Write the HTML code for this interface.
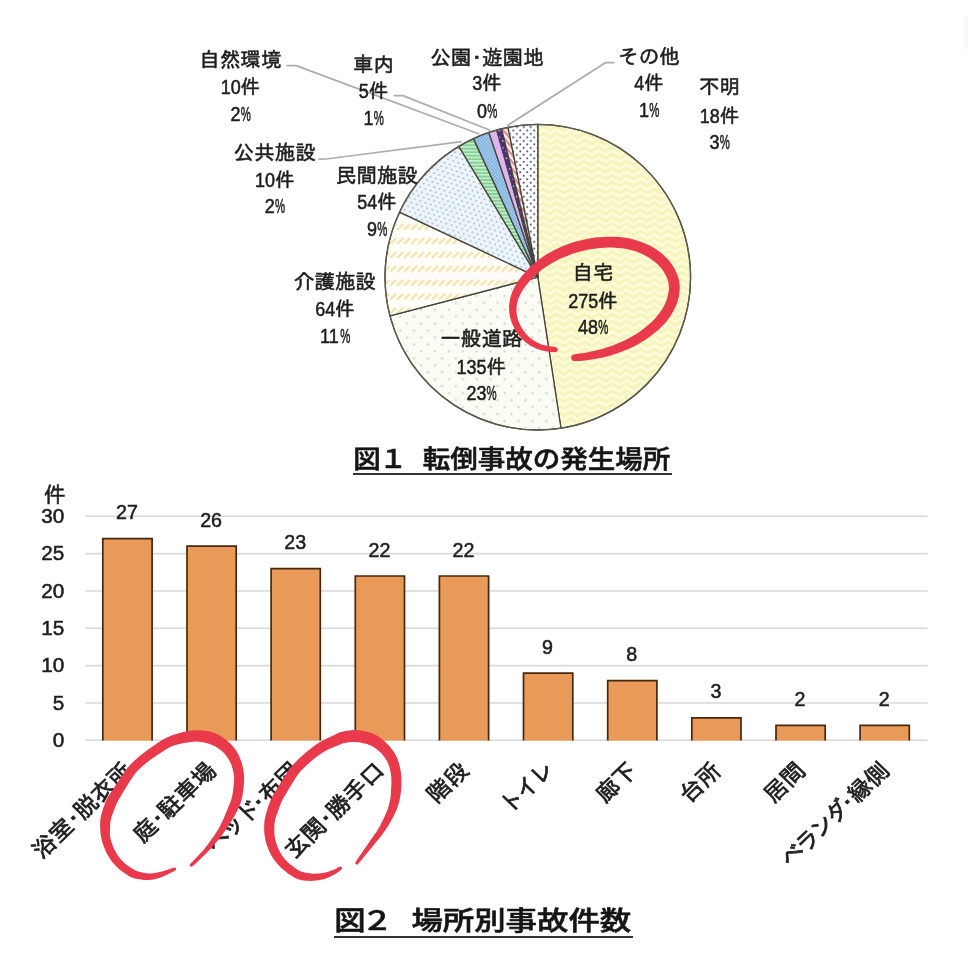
<!DOCTYPE html>
<html lang="ja">
<head>
<meta charset="utf-8">
<title>転倒事故の発生場所</title>
<style>
html,body{margin:0;padding:0;background:#fff;}
body{width:968px;height:964px;overflow:hidden;position:relative;}
svg{position:absolute;left:0;top:0;display:block;}
text{font-family:"Liberation Sans","IPAGothic","Noto Sans CJK JP",sans-serif;fill:#1e1e1e;stroke:#1e1e1e;stroke-width:0.55px;}
.lb{font-size:20.6px;text-anchor:middle;}
.k{font-size:19.7px;}
.n{font-size:20.3px;}
.ttl{font-family:"Liberation Sans","Noto Sans CJK JP",sans-serif;font-weight:500;fill:#151515;stroke:#151515;stroke-width:0.6px;}
.ax{font-size:20.3px;text-anchor:end;}
.dv{font-size:20.3px;text-anchor:middle;}
.cat{font-size:22.7px;text-anchor:end;stroke-width:0.7px;}
</style>
</head>
<body>
<svg width="968" height="964" viewBox="0 0 968 964">
<defs>
<pattern id="pZig" width="13.92" height="6.96" patternUnits="userSpaceOnUse"><rect width="13.92" height="6.96" fill="#fdfcda"/>
<polyline points="-6.96,-8.70 0,-12.88 6.96,-8.70 13.92,-12.88 20.88,-8.70" fill="none" stroke="#f6f4ba" stroke-width="3.04"/>
<polyline points="-6.96,-1.74 0,-5.92 6.96,-1.74 13.92,-5.92 20.88,-1.74" fill="none" stroke="#f6f4ba" stroke-width="3.04"/>
<polyline points="-6.96,5.22 0,1.04 6.96,5.22 13.92,1.04 20.88,5.22" fill="none" stroke="#f6f4ba" stroke-width="3.04"/>
<polyline points="-6.96,12.18 0,8.00 6.96,12.18 13.92,8.00 20.88,12.18" fill="none" stroke="#f6f4ba" stroke-width="3.04"/>
<polyline points="-6.96,19.14 0,14.96 6.96,19.14 13.92,14.96 20.88,19.14" fill="none" stroke="#f6f4ba" stroke-width="3.04"/>
</pattern>
<pattern id="pRoad" width="13.92" height="13.92" patternUnits="userSpaceOnUse"><rect width="13.92" height="13.92" fill="#fbfcf4"/><circle cx="3.48" cy="3.48" r="1.15" fill="#d0d3c7"/><circle cx="10.44" cy="10.44" r="1.15" fill="#d0d3c7"/></pattern>
<pattern id="pCare" width="6.96" height="13.92" patternUnits="userSpaceOnUse"><rect width="6.96" height="13.92" fill="#fffefa"/>
<line x1="-6.44" y1="7.31" x2="-0.52" y2="1.39" stroke="#f2e2a4" stroke-width="2.17"/>
<line x1="0.52" y1="7.31" x2="6.44" y2="1.39" stroke="#f2e2a4" stroke-width="2.17"/>
<line x1="7.48" y1="7.31" x2="13.40" y2="1.39" stroke="#f2e2a4" stroke-width="2.17"/>
</pattern>
<pattern id="pPriv" width="13.92" height="13.92" patternUnits="userSpaceOnUse"><rect width="13.92" height="13.92" fill="#ebf5fb"/>
<circle cx="0.87" cy="0.87" r="0.9" fill="#9eafbd"/>
<circle cx="6.09" cy="2.61" r="0.9" fill="#9eafbd"/>
<circle cx="11.31" cy="4.35" r="0.9" fill="#9eafbd"/>
<circle cx="2.61" cy="6.09" r="0.9" fill="#9eafbd"/>
<circle cx="7.83" cy="7.83" r="0.9" fill="#9eafbd"/>
<circle cx="13.05" cy="9.57" r="0.9" fill="#9eafbd"/>
<circle cx="4.35" cy="11.31" r="0.9" fill="#9eafbd"/>
<circle cx="9.57" cy="13.05" r="0.9" fill="#9eafbd"/>
</pattern>
<pattern id="pGreen" width="3.48" height="3.48" patternUnits="userSpaceOnUse"><rect width="3.48" height="3.48" fill="#84cf94"/><rect width="3.48" height="1.57" fill="#c9efd0"/></pattern>
<pattern id="pBlue" width="3.48" height="3.48" patternUnits="userSpaceOnUse"><rect width="3.48" height="3.48" fill="#7eaedb"/><rect width="1.74" height="1.74" fill="#a9cdeb"/><rect x="1.74" y="1.74" width="1.74" height="1.74" fill="#a9cdeb"/></pattern>
<pattern id="pPurple" width="6.96" height="6.96" patternUnits="userSpaceOnUse"><rect width="6.96" height="6.96" fill="#4d2b7c"/><circle cx="1.74" cy="1.74" r="0.95" fill="#d3b4ee"/><circle cx="5.22" cy="5.22" r="0.95" fill="#d3b4ee"/></pattern>
<pattern id="pOther" width="4.52" height="4.52" patternUnits="userSpaceOnUse" patternTransform="rotate(50)"><rect width="4.52" height="4.52" fill="#fdeeea"/><rect width="4.52" height="2.09" fill="#d88c8a"/></pattern>
<pattern id="pUnk" width="6.96" height="6.96" patternUnits="userSpaceOnUse"><rect width="6.96" height="6.96" fill="#fdfdff"/><circle cx="1.74" cy="1.74" r="1.05" fill="#54546a"/><circle cx="5.22" cy="5.22" r="1.05" fill="#54546a"/></pattern>
</defs>
<rect width="968" height="964" fill="#ffffff"/>
<rect x="964" y="17" width="4" height="32" fill="#f8f8f8"/>
<g fill="none" stroke="#adadad" stroke-width="1.7" stroke-linejoin="round">
<polyline points="286.3,65.6 296.2,65.6 479.3,134"/>
<polyline points="393.6,95.6 403,95.6 490.6,130.5"/>
<polyline points="318.6,159.2 326,159 461.7,141.7"/>
<polyline points="614.6,62.7 605.3,62.7 507.1,125.7"/>
</g>
<g stroke="#45453c" stroke-width="1.3" stroke-linejoin="round">
<path d="M537.80 277.20 L537.80 124.40 A152.8 152.8 0 0 1 560.96 428.23 Z" fill="url(#pZig)"/>
<path d="M537.80 277.20 L560.96 428.23 A152.8 152.8 0 0 1 389.96 315.81 Z" fill="url(#pRoad)"/>
<path d="M537.80 277.20 L389.96 315.81 A152.8 152.8 0 0 1 399.57 212.08 Z" fill="url(#pCare)"/>
<path d="M537.80 277.20 L399.57 212.08 A152.8 152.8 0 0 1 458.78 146.42 Z" fill="url(#pPriv)"/>
<path d="M537.80 277.20 L458.78 146.42 A152.8 152.8 0 0 1 473.43 138.62 Z" fill="url(#pGreen)"/>
<path d="M537.80 277.20 L473.43 138.62 A152.8 152.8 0 0 1 488.85 132.45 Z" fill="url(#pBlue)"/>
<path d="M537.80 277.20 L488.85 132.45 A152.8 152.8 0 0 1 496.78 130.01 Z" fill="#ddb4f1"/>
<path d="M537.80 277.20 L496.78 130.01 A152.8 152.8 0 0 1 501.60 128.75 Z" fill="url(#pPurple)"/>
<path d="M537.80 277.20 L501.60 128.75 A152.8 152.8 0 0 1 508.09 127.32 Z" fill="url(#pOther)"/>
<path d="M537.80 277.20 L508.09 127.32 A152.8 152.8 0 0 1 537.80 124.40 Z" fill="url(#pUnk)"/>
</g>
<circle cx="537.8" cy="277.2" r="152.8" fill="none" stroke="#5a5a4e" stroke-width="1.3"/>
<text class="lb" x="240.5" y="66.6">自然環境</text>
<text class="n" transform="translate(220.7,93.6) scale(0.885,1)">10</text>
<text class="k" x="240.6" y="93.6">件</text>
<text class="n" transform="translate(230.4,120.6) scale(0.885,1)">2</text>
<text class="n" transform="translate(240.7,120.6) scale(0.56,1)">%</text>
<text class="lb" x="373.6" y="71.5">車内</text>
<text class="n" transform="translate(358.8,98.3) scale(0.885,1)">5</text>
<text class="k" x="368.7" y="98.3">件</text>
<text class="n" transform="translate(363.5,124.8) scale(0.885,1)">1</text>
<text class="n" transform="translate(373.8,124.8) scale(0.56,1)">%</text>
<text class="lb" x="487" y="64.8">公園<tspan dx="-5">・</tspan><tspan dx="-5">遊園地</tspan></text>
<text class="n" transform="translate(472.2,90.0) scale(0.885,1)">3</text>
<text class="k" x="482.1" y="90.0">件</text>
<text class="n" transform="translate(476.9,118.1) scale(0.885,1)">0</text>
<text class="n" transform="translate(487.2,118.1) scale(0.56,1)">%</text>
<text class="lb" x="649" y="64.1">その他</text>
<text class="n" transform="translate(634.2,89.9) scale(0.885,1)">4</text>
<text class="k" x="644.1" y="89.9">件</text>
<text class="n" transform="translate(638.9,117.4) scale(0.885,1)">1</text>
<text class="n" transform="translate(649.2,117.4) scale(0.56,1)">%</text>
<text class="lb" x="719.6" y="94.2">不明</text>
<text class="n" transform="translate(699.8,122.5) scale(0.885,1)">18</text>
<text class="k" x="719.7" y="122.5">件</text>
<text class="n" transform="translate(709.5,148.9) scale(0.885,1)">3</text>
<text class="n" transform="translate(719.8,148.9) scale(0.56,1)">%</text>
<text class="lb" x="274.8" y="159.6">公共施設</text>
<text class="n" transform="translate(255.0,186.6) scale(0.885,1)">10</text>
<text class="k" x="274.9" y="186.6">件</text>
<text class="n" transform="translate(264.7,213.4) scale(0.885,1)">2</text>
<text class="n" transform="translate(275.0,213.4) scale(0.56,1)">%</text>
<text class="lb" x="377" y="183.1">民間施設</text>
<text class="n" transform="translate(357.2,208.9) scale(0.885,1)">54</text>
<text class="k" x="377.1" y="208.9">件</text>
<text class="n" transform="translate(366.9,236.4) scale(0.885,1)">9</text>
<text class="n" transform="translate(377.2,236.4) scale(0.56,1)">%</text>
<text class="lb" x="335" y="289.4">介護施設</text>
<text class="n" transform="translate(315.2,316.1) scale(0.885,1)">64</text>
<text class="k" x="335.1" y="316.1">件</text>
<text class="n" transform="translate(320.0,342.7) scale(0.885,1)">11</text>
<text class="n" transform="translate(340.2,342.7) scale(0.56,1)">%</text>
<text class="lb" x="481.4" y="346">一般道路</text>
<text class="n" transform="translate(456.6,373.6) scale(0.885,1)">135</text>
<text class="k" x="486.5" y="373.6">件</text>
<text class="n" transform="translate(466.4,400.3) scale(0.885,1)">23</text>
<text class="n" transform="translate(486.6,400.3) scale(0.56,1)">%</text>
<text class="lb" x="593" y="280.3">自宅</text>
<text class="n" transform="translate(568.2,307.5) scale(0.885,1)">275</text>
<text class="k" x="598.1" y="307.5">件</text>
<text class="n" transform="translate(578.0,334.3) scale(0.885,1)">48</text>
<text class="n" transform="translate(598.2,334.3) scale(0.56,1)">%</text>
<path d="M555.4 347.1 L553.8 346.8 L551.4 346.5 L548.8 346.1 L546.0 345.6 L543.3 345.0 L540.9 344.2 L538.7 343.2 L536.3 342.0 L534.1 340.7 L531.9 339.2 L529.8 337.6 L528.0 335.9 L526.2 334.1 L524.5 332.0 L522.9 329.7 L521.5 327.4 L520.2 325.1 L519.1 322.8 L518.2 320.5 L517.6 318.2 L517.0 315.9 L516.7 313.5 L516.5 311.2 L516.5 308.9 L516.6 306.7 L516.9 304.4 L517.4 302.2 L518.0 299.9 L518.8 297.6 L519.8 295.4 L521.0 293.1 L522.3 290.8 L523.7 288.5 L525.4 286.2 L527.2 283.9 L529.3 281.5 L531.5 279.1 L533.9 276.7 L536.5 274.2 L539.2 271.9 L542.0 269.6 L545.0 267.4 L548.1 265.4 L551.4 263.4 L554.9 261.4 L558.5 259.6 L562.2 257.9 L565.8 256.4 L569.5 254.9 L573.2 253.6 L577.1 252.4 L580.9 251.3 L584.8 250.4 L588.6 249.6 L592.5 248.9 L596.3 248.4 L600.2 248.0 L604.0 247.7 L607.7 247.6 L611.4 247.5 L615.0 247.7 L618.5 247.9 L621.9 248.2 L625.3 248.7 L628.5 249.4 L631.7 250.2 L634.9 251.1 L638.1 252.3 L641.2 253.6 L644.2 255.0 L647.1 256.6 L649.8 258.2 L652.2 259.9 L654.6 261.7 L656.8 263.6 L658.9 265.7 L660.8 267.7 L662.4 269.8 L663.9 272.0 L665.2 274.3 L666.4 276.7 L667.4 279.1 L668.1 281.5 L668.6 283.8 L668.8 286.1 L668.9 288.5 L668.7 291.0 L668.3 293.5 L667.7 296.1 L667.0 298.6 L666.2 301.1 L665.2 303.6 L663.9 306.0 L662.5 308.5 L661.0 311.0 L659.3 313.3 L657.5 315.6 L655.5 317.9 L653.4 320.2 L651.2 322.4 L648.8 324.5 L646.3 326.6 L643.6 328.7 L640.9 330.8 L638.0 332.8 L635.0 334.7 L632.0 336.6 L628.8 338.3 L625.6 340.0 L622.2 341.6 L618.7 343.1 L615.1 344.5 L611.5 345.9 L608.0 347.1 L604.5 348.2 L600.8 349.2 L597.0 350.2 L593.4 351.0 L590.0 351.7 L586.9 352.4 L584.2 352.9 L581.7 353.3 L579.4 353.6 L577.3 353.9 L575.6 354.1 L574.3 354.3 L573.0 354.7 L571.9 355.5 L571.3 356.7 L571.1 358.1 L571.5 359.4 L572.4 360.4 L573.6 361.1 L574.9 361.2 L576.2 361.1 L578.0 361.1 L580.1 361.0 L582.6 360.8 L585.4 360.5 L588.3 360.1 L591.5 359.5 L595.0 358.9 L598.8 358.2 L602.7 357.4 L606.7 356.4 L610.6 355.4 L614.4 354.2 L618.2 352.9 L622.0 351.6 L625.8 350.1 L629.6 348.5 L633.2 346.8 L636.7 345.0 L640.1 343.1 L643.4 341.1 L646.6 339.0 L649.7 336.8 L652.6 334.6 L655.4 332.3 L658.2 330.0 L660.8 327.5 L663.2 325.0 L665.6 322.4 L667.8 319.7 L669.8 317.0 L671.7 314.1 L673.4 311.1 L674.9 308.1 L676.3 305.0 L677.4 301.9 L678.3 298.7 L679.0 295.5 L679.5 292.2 L679.7 288.8 L679.7 285.4 L679.3 282.1 L678.6 278.7 L677.6 275.5 L676.3 272.3 L674.8 269.2 L673.1 266.3 L671.2 263.4 L669.1 260.7 L666.7 258.1 L664.2 255.7 L661.5 253.3 L658.6 251.1 L655.6 249.1 L652.5 247.1 L649.1 245.3 L645.6 243.7 L642.0 242.2 L638.3 240.9 L634.6 239.7 L630.9 238.8 L627.1 238.0 L623.3 237.5 L619.4 237.1 L615.5 236.8 L611.5 236.7 L607.5 236.7 L603.4 236.9 L599.2 237.2 L595.0 237.6 L590.8 238.2 L586.6 239.0 L582.4 239.9 L578.2 240.9 L574.0 242.1 L569.8 243.5 L565.7 244.9 L561.7 246.6 L557.7 248.4 L553.8 250.3 L550.0 252.4 L546.2 254.6 L542.6 256.9 L539.2 259.3 L535.9 261.9 L532.8 264.6 L529.9 267.3 L527.2 270.1 L524.6 272.9 L522.3 275.6 L520.2 278.3 L518.2 281.1 L516.4 283.8 L514.9 286.6 L513.5 289.3 L512.2 292.1 L511.2 294.9 L510.4 297.7 L509.8 300.5 L509.3 303.3 L509.1 306.1 L509.1 308.9 L509.2 311.7 L509.6 314.5 L510.1 317.3 L510.9 320.1 L511.8 322.8 L513.0 325.5 L514.3 328.1 L515.8 330.8 L517.5 333.4 L519.4 335.9 L521.5 338.3 L523.6 340.5 L525.9 342.5 L528.4 344.3 L530.9 345.9 L533.6 347.3 L536.2 348.6 L538.9 349.6 L541.8 350.5 L544.9 351.1 L548.0 351.6 L550.8 351.9 L553.1 352.1 L554.7 352.3 L555.7 352.2 L556.6 351.8 L557.3 351.0 L557.7 350.1 L557.6 349.1 L557.2 348.2 L556.4 347.5Z" fill="#e83a4a"/>
<text class="ttl" font-size="25.5" transform="translate(353.2,468.2) scale(1.08,1)" xml:space="preserve"><tspan x="0.0">図</tspan><tspan x="24.3">１ </tspan><tspan x="64.4">転倒事故の発生場所</tspan></text>
<rect x="353" y="473" width="319" height="2" fill="#333"/>
<g stroke="#d9d9d9" stroke-width="1.6">
<line x1="85.3" y1="740.3" x2="927.5" y2="740.3"/>
<line x1="85.3" y1="703.0" x2="927.5" y2="703.0"/>
<line x1="85.3" y1="665.6" x2="927.5" y2="665.6"/>
<line x1="85.3" y1="628.3" x2="927.5" y2="628.3"/>
<line x1="85.3" y1="591.0" x2="927.5" y2="591.0"/>
<line x1="85.3" y1="553.6" x2="927.5" y2="553.6"/>
<line x1="85.3" y1="516.3" x2="927.5" y2="516.3"/>
</g>
<text class="ax" transform="translate(64.3,746.8) scale(1.02,1)">0</text>
<text class="ax" transform="translate(64.3,709.5) scale(1.02,1)">5</text>
<text class="ax" transform="translate(64.3,672.1) scale(1.02,1)">10</text>
<text class="ax" transform="translate(64.3,634.8) scale(1.02,1)">15</text>
<text class="ax" transform="translate(64.3,597.5) scale(1.02,1)">20</text>
<text class="ax" transform="translate(64.3,560.1) scale(1.02,1)">25</text>
<text class="ax" transform="translate(64.3,522.8) scale(1.02,1)">30</text>
<text x="43.8" y="502.3" style="font-size:22px">件</text>
<g fill="#e99a58" stroke="#45280f" stroke-width="1.7" stroke-linejoin="miter">
<path d="M102.8 740.5 V538.7 H152.1 V740.5"/>
<path d="M187.0 740.5 V546.2 H236.2 V740.5"/>
<path d="M271.1 740.5 V568.6 H320.3 V740.5"/>
<path d="M355.3 740.5 V576.0 H404.5 V740.5"/>
<path d="M439.4 740.5 V576.0 H488.6 V740.5"/>
<path d="M523.5 740.5 V673.1 H572.8 V740.5"/>
<path d="M607.7 740.5 V680.6 H656.9 V740.5"/>
<path d="M691.8 740.5 V717.9 H741.0 V740.5"/>
<path d="M776.0 740.5 V725.4 H825.2 V740.5"/>
<path d="M860.1 740.5 V725.4 H909.3 V740.5"/>
</g>
<text class="dv" transform="translate(126.9,519.2) scale(0.97,1)">27</text>
<text class="dv" transform="translate(211.1,526.7) scale(0.97,1)">26</text>
<text class="dv" transform="translate(295.2,549.1) scale(0.97,1)">23</text>
<text class="dv" transform="translate(379.4,556.5) scale(0.97,1)">22</text>
<text class="dv" transform="translate(463.5,556.5) scale(0.97,1)">22</text>
<text class="dv" transform="translate(547.6,653.6) scale(0.97,1)">9</text>
<text class="dv" transform="translate(631.8,661.1) scale(0.97,1)">8</text>
<text class="dv" transform="translate(715.9,698.4) scale(0.97,1)">3</text>
<text class="dv" transform="translate(800.1,705.9) scale(0.97,1)">2</text>
<text class="dv" transform="translate(884.2,705.9) scale(0.97,1)">2</text>
<text class="cat" transform="translate(133.8,772) scale(1.045,1) rotate(-45)">浴室<tspan dx="-6">・</tspan><tspan dx="-6">脱衣所</tspan></text>
<text class="cat" transform="translate(302.1,772) scale(1.045,1) rotate(-45)"><tspan letter-spacing="-2.6">ベッド</tspan><tspan dx="-6">・</tspan><tspan dx="-6">布団</tspan></text>
<text class="cat" transform="translate(470.4,772) scale(1.045,1) rotate(-45)">階段</text>
<text class="cat" transform="translate(554.5,772) scale(1.045,1) rotate(-45)"><tspan letter-spacing="-2.4">トイレ</tspan></text>
<text class="cat" transform="translate(638.7,772) scale(1.045,1) rotate(-45)">廊下</text>
<text class="cat" transform="translate(722.8,772) scale(1.045,1) rotate(-45)">台所</text>
<text class="cat" transform="translate(807.0,772) scale(1.045,1) rotate(-45)">居間</text>
<text class="cat" transform="translate(891.1,772) scale(1.045,1) rotate(-45)"><tspan letter-spacing="-2.6">ベランダ</tspan><tspan dx="-6">・</tspan><tspan dx="-6">縁側</tspan></text>
<path d="M174.4 869.1 L173.7 869.4 L172.6 869.9 L171.3 870.4 L169.7 871.1 L167.7 871.9 L165.3 872.9 L162.8 873.9 L160.4 874.7 L158.1 875.4 L155.7 875.9 L153.3 876.3 L151.0 876.6 L148.7 876.7 L146.3 876.6 L144.0 876.4 L141.7 876.1 L139.4 875.7 L137.1 875.2 L134.8 874.4 L132.3 873.3 L129.5 871.7 L126.6 869.8 L123.7 867.6 L121.1 865.4 L118.8 863.2 L116.7 860.8 L114.9 858.4 L113.2 856.0 L111.8 853.7 L110.5 851.4 L109.5 849.0 L108.5 846.7 L107.6 844.4 L106.8 842.0 L106.2 839.6 L105.7 837.3 L105.4 835.0 L105.2 832.6 L105.1 830.3 L105.1 828.0 L105.1 825.7 L105.2 823.4 L105.4 821.0 L105.7 818.7 L106.2 816.4 L106.9 814.0 L107.8 811.6 L108.6 809.3 L109.5 807.0 L110.3 804.7 L111.3 802.4 L112.5 800.0 L113.7 797.7 L115.1 795.5 L116.7 793.0 L118.7 789.8 L121.4 785.6 L124.5 780.6 L127.8 775.5 L131.1 771.1 L134.2 767.6 L137.2 764.5 L140.3 761.7 L143.6 759.0 L147.1 756.2 L150.9 753.5 L154.6 751.0 L158.1 748.7 L161.1 746.6 L163.9 744.8 L166.8 743.1 L170.0 741.6 L173.9 740.2 L178.3 738.9 L182.6 737.8 L186.6 737.0 L190.0 736.4 L193.1 736.1 L196.0 735.9 L199.0 736.0 L202.2 736.3 L205.3 736.7 L208.5 737.4 L211.5 738.3 L214.4 739.4 L217.2 740.8 L219.8 742.4 L222.3 744.1 L224.6 746.0 L226.8 748.0 L228.8 750.2 L230.6 752.4 L232.2 754.7 L233.6 757.1 L234.9 759.6 L236.0 762.3 L237.0 765.2 L237.8 768.4 L238.5 771.6 L238.9 774.8 L239.1 777.9 L239.0 781.0 L238.8 784.1 L238.5 787.2 L238.1 790.4 L237.7 793.6 L237.1 796.7 L236.4 799.7 L235.5 802.5 L234.4 805.1 L233.3 807.7 L232.1 810.3 L230.9 812.9 L229.7 815.5 L228.4 818.1 L227.0 820.7 L225.6 823.3 L224.2 825.9 L222.6 828.4 L221.0 831.0 L219.3 833.6 L217.4 836.1 L215.5 838.7 L213.5 841.3 L211.5 843.8 L209.5 846.3 L207.3 848.9 L204.8 851.7 L201.4 855.2 L197.5 859.1 L193.8 862.6 L191.3 865.1 Z" fill="#ffffff"/>
<path d="M340.3 868.2 L339.3 868.9 L337.9 869.8 L336.3 870.9 L334.4 871.9 L332.3 872.9 L329.9 873.9 L327.4 874.8 L325.0 875.6 L322.7 876.2 L320.3 876.6 L318.0 876.9 L315.7 877.1 L313.4 877.2 L311.1 877.2 L308.7 877.1 L306.4 876.8 L304.1 876.5 L301.9 876.0 L299.5 875.3 L297.0 874.2 L294.1 872.5 L290.8 870.2 L287.7 867.8 L284.9 865.4 L282.6 863.1 L280.5 860.7 L278.7 858.4 L277.1 856.0 L275.7 853.7 L274.5 851.4 L273.4 849.0 L272.5 846.7 L271.7 844.4 L271.0 842.0 L270.4 839.6 L269.9 837.3 L269.6 835.0 L269.3 832.6 L269.2 830.3 L269.2 828.0 L269.3 825.7 L269.4 823.4 L269.7 821.0 L270.1 818.7 L270.7 816.4 L271.4 814.0 L272.2 811.6 L273.0 809.3 L273.8 807.0 L274.6 804.7 L275.4 802.4 L276.5 800.0 L277.7 797.7 L278.9 795.5 L280.5 792.9 L282.4 789.8 L284.9 785.7 L287.8 780.8 L290.9 775.9 L294.0 771.5 L297.1 767.8 L300.2 764.4 L303.5 761.3 L306.9 758.2 L310.5 755.2 L314.2 752.2 L318.0 749.5 L321.8 747.0 L325.8 744.8 L329.9 743.0 L333.7 741.3 L336.8 740.0 L338.7 739.1 L339.8 738.5 L340.7 738.0 L342.4 737.6 L345.0 737.1 L348.2 736.5 L351.6 736.1 L354.9 736.0 L358.1 736.2 L361.4 736.7 L364.5 737.3 L367.3 738.0 L369.7 738.7 L371.7 739.5 L373.6 740.5 L375.6 741.6 L377.7 743.0 L379.8 744.6 L381.9 746.3 L383.9 748.2 L385.8 750.3 L387.7 752.6 L389.5 755.0 L391.0 757.4 L392.2 759.8 L393.2 762.2 L394.0 764.7 L394.7 767.3 L395.3 769.9 L395.8 772.5 L396.2 775.3 L396.4 778.1 L396.5 781.2 L396.4 784.4 L396.2 787.6 L396.0 790.6 L395.8 793.4 L395.5 796.0 L395.1 798.5 L394.6 801.0 L394.0 803.4 L393.4 805.6 L392.6 807.9 L391.7 810.3 L390.6 812.8 L389.4 815.4 L388.1 818.1 L386.8 820.7 L385.4 823.3 L384.0 825.9 L382.4 828.4 L380.8 831.0 L379.0 833.6 L377.1 836.1 L375.1 838.7 L373.1 841.3 L371.2 843.9 L369.3 846.4 L367.3 849.0 L365.3 851.7 L363.0 854.7 L360.6 858.0 L358.3 860.9 L356.8 863.0 Z" fill="#ffffff"/>
<text class="cat" transform="translate(218.0,772) scale(1.045,1) rotate(-45)">庭<tspan dx="-6">・</tspan><tspan dx="-6">駐車場</tspan></text>
<text class="cat" transform="translate(386.3,772) scale(1.045,1) rotate(-45)">玄関<tspan dx="-6">・</tspan><tspan dx="-6">勝手口</tspan></text>
<path d="M173.7 867.5 L173.0 867.8 L171.9 868.2 L170.6 868.7 L168.9 869.3 L166.9 869.9 L164.5 870.7 L162.0 871.5 L159.6 872.1 L157.3 872.6 L155.1 873.0 L152.9 873.2 L150.7 873.4 L148.6 873.4 L146.5 873.3 L144.4 873.0 L142.3 872.6 L140.1 872.1 L138.1 871.5 L136.2 870.8 L134.1 869.7 L131.7 868.3 L128.9 866.5 L126.2 864.5 L123.8 862.4 L121.8 860.4 L119.9 858.2 L118.2 855.9 L116.7 853.7 L115.5 851.5 L114.4 849.4 L113.4 847.3 L112.5 845.1 L111.8 842.9 L111.1 840.7 L110.5 838.6 L110.1 836.5 L109.9 834.5 L109.9 832.4 L109.9 830.2 L110.0 828.0 L110.1 825.8 L110.2 823.6 L110.4 821.6 L110.8 819.7 L111.3 817.7 L112.0 815.6 L112.8 813.4 L113.7 811.2 L114.5 808.9 L115.3 806.8 L116.2 804.6 L117.3 802.5 L118.3 800.3 L119.5 798.2 L121.0 795.7 L122.9 792.5 L125.5 788.2 L128.6 783.2 L131.8 778.3 L134.8 774.1 L137.6 770.8 L140.5 768.0 L143.4 765.3 L146.6 762.7 L150.0 760.1 L153.7 757.5 L157.3 755.0 L160.8 752.8 L163.9 750.8 L166.6 749.0 L169.1 747.6 L171.9 746.3 L175.5 745.1 L179.6 744.0 L183.8 743.1 L187.6 742.4 L190.8 741.9 L193.5 741.7 L196.1 741.6 L198.7 741.7 L201.5 742.0 L204.3 742.5 L207.0 743.2 L209.5 744.0 L212.0 744.9 L214.4 746.0 L216.7 747.3 L218.9 748.7 L220.9 750.3 L222.8 752.0 L224.6 753.8 L226.2 755.7 L227.6 757.7 L228.9 759.7 L230.1 761.8 L231.1 764.1 L232.0 766.7 L232.8 769.6 L233.5 772.5 L233.9 775.3 L234.1 778.0 L234.0 780.8 L233.8 783.7 L233.5 786.7 L233.2 789.7 L232.8 792.8 L232.2 795.7 L231.6 798.4 L230.9 800.8 L229.9 803.2 L228.9 805.7 L227.8 808.3 L226.8 811.0 L225.7 813.6 L224.6 816.2 L223.5 818.8 L222.3 821.4 L221.0 824.0 L219.7 826.6 L218.3 829.2 L216.7 831.8 L215.0 834.4 L213.2 837.0 L211.3 839.6 L209.5 842.2 L207.6 844.7 L205.6 847.3 L203.2 850.2 L200.0 853.7 L196.2 857.7 L192.6 861.4 L190.2 864.0 L189.8 864.5 L189.7 865.1 L189.8 865.7 L190.2 866.2 L190.7 866.6 L191.3 866.7 L191.9 866.6 L192.4 866.2 L195.1 863.9 L198.9 860.4 L202.9 856.6 L206.4 853.2 L209.1 850.5 L211.5 847.9 L213.6 845.5 L215.7 843.0 L217.8 840.5 L219.8 837.9 L221.8 835.4 L223.7 832.8 L225.6 830.2 L227.3 827.7 L228.9 825.1 L230.5 822.6 L232.1 820.0 L233.6 817.4 L235.0 814.9 L236.4 812.3 L237.7 809.7 L238.9 807.0 L240.1 804.2 L241.2 801.0 L242.0 797.7 L242.6 794.4 L243.1 791.0 L243.5 787.7 L243.8 784.5 L244.0 781.2 L244.1 777.8 L243.9 774.3 L243.5 770.8 L242.8 767.2 L242.0 763.8 L240.9 760.5 L239.7 757.4 L238.4 754.5 L236.8 751.7 L235.0 749.1 L233.0 746.5 L230.8 744.0 L228.3 741.7 L225.7 739.5 L222.9 737.5 L220.0 735.7 L216.8 734.0 L213.5 732.6 L210.0 731.6 L206.4 730.9 L202.8 730.5 L199.3 730.3 L195.9 730.2 L192.6 730.5 L189.2 730.9 L185.6 731.6 L181.4 732.6 L176.9 733.8 L172.3 735.2 L168.1 736.9 L164.4 738.7 L161.3 740.6 L158.4 742.5 L155.4 744.6 L151.9 747.0 L148.1 749.6 L144.3 752.4 L140.6 755.3 L137.2 758.2 L134.0 761.1 L130.7 764.3 L127.4 768.1 L123.9 772.8 L120.4 777.9 L117.2 782.9 L114.5 787.1 L112.4 790.2 L110.6 792.8 L109.1 795.1 L107.7 797.5 L106.4 800.1 L105.3 802.6 L104.4 805.1 L103.5 807.4 L102.7 809.9 L101.9 812.4 L101.2 815.0 L100.6 817.7 L100.3 820.5 L100.2 823.1 L100.1 825.6 L100.2 828.0 L100.3 830.4 L100.5 832.9 L100.8 835.5 L101.3 838.1 L101.9 840.7 L102.6 843.3 L103.5 845.8 L104.5 848.3 L105.5 850.8 L106.7 853.3 L108.0 855.8 L109.7 858.3 L111.5 860.9 L113.6 863.4 L115.9 865.9 L118.4 868.4 L121.2 870.7 L124.3 873.0 L127.4 875.1 L130.5 876.9 L133.4 878.0 L136.1 878.8 L138.7 879.2 L141.1 879.6 L143.6 879.9 L146.2 880.0 L148.7 880.0 L151.3 879.8 L153.8 879.4 L156.3 878.8 L158.8 878.1 L161.2 877.3 L163.7 876.3 L166.2 875.1 L168.5 873.9 L170.5 872.9 L172.1 872.2 L173.4 871.6 L174.4 871.0 L175.1 870.7 L175.6 870.3 L176.0 869.7 L176.1 869.1 L176.0 868.4 L175.6 867.9 L175.0 867.5 L174.4 867.4Z" fill="#e83a4a"/>
<path d="M339.3 866.8 L338.3 867.3 L336.8 868.2 L335.2 869.1 L333.4 869.9 L331.3 870.6 L328.9 871.5 L326.5 872.2 L324.2 872.7 L322.0 873.1 L319.8 873.4 L317.7 873.6 L315.5 873.7 L313.3 873.7 L311.2 873.6 L309.1 873.3 L306.9 872.9 L304.8 872.5 L302.8 872.1 L301.0 871.4 L299.0 870.4 L296.4 868.9 L293.4 866.8 L290.4 864.5 L287.8 862.3 L285.7 860.1 L283.9 858.0 L282.3 855.8 L280.9 853.5 L279.7 851.4 L278.6 849.3 L277.7 847.2 L276.9 845.0 L276.2 842.9 L275.6 840.7 L275.1 838.6 L274.7 836.5 L274.5 834.4 L274.3 832.3 L274.3 830.2 L274.3 828.1 L274.4 825.9 L274.5 823.8 L274.8 821.8 L275.1 819.7 L275.7 817.7 L276.4 815.6 L277.2 813.4 L278.1 811.0 L278.8 808.7 L279.6 806.5 L280.4 804.4 L281.3 802.3 L282.3 800.2 L283.4 798.1 L284.9 795.6 L286.8 792.4 L289.2 788.3 L292.1 783.5 L295.1 778.7 L298.0 774.5 L300.8 771.1 L303.8 767.9 L306.9 764.9 L310.2 762.0 L313.7 759.1 L317.3 756.3 L320.9 753.7 L324.4 751.4 L328.1 749.5 L332.0 747.8 L335.8 746.3 L339.1 745.0 L341.3 744.0 L342.3 743.5 L342.5 743.4 L343.7 743.2 L346.1 742.8 L349.0 742.3 L352.1 742.0 L354.8 742.0 L357.5 742.2 L360.3 742.6 L363.2 743.2 L365.7 743.8 L367.7 744.3 L369.3 744.9 L370.9 745.6 L372.6 746.5 L374.5 747.6 L376.4 748.9 L378.2 750.4 L380.0 752.0 L381.8 753.8 L383.5 755.9 L385.1 758.0 L386.4 760.0 L387.5 761.9 L388.3 764.0 L389.1 766.2 L389.8 768.6 L390.3 770.9 L390.8 773.3 L391.1 775.8 L391.4 778.4 L391.4 781.1 L391.4 784.2 L391.2 787.3 L391.0 790.2 L390.9 792.9 L390.7 795.4 L390.4 797.7 L390.1 800.0 L389.6 802.2 L389.1 804.3 L388.5 806.5 L387.8 808.7 L386.9 811.2 L385.8 813.7 L384.7 816.3 L383.5 819.0 L382.2 821.5 L380.9 824.1 L379.6 826.7 L378.1 829.2 L376.5 831.7 L374.7 834.3 L372.8 837.0 L370.9 839.6 L369.1 842.3 L367.3 844.9 L365.4 847.6 L363.5 850.3 L361.4 853.5 L359.0 856.8 L356.9 859.9 L355.5 862.0 L355.3 862.6 L355.2 863.2 L355.4 863.8 L355.8 864.3 L356.4 864.5 L357.0 864.6 L357.6 864.4 L358.1 864.0 L359.8 862.0 L362.1 859.2 L364.7 856.0 L367.1 853.1 L369.2 850.5 L371.3 847.9 L373.3 845.4 L375.3 843.0 L377.4 840.5 L379.4 838.0 L381.5 835.4 L383.5 832.8 L385.3 830.2 L387.0 827.6 L388.6 825.0 L390.1 822.4 L391.6 819.8 L393.1 817.2 L394.4 814.5 L395.6 811.9 L396.7 809.4 L397.6 807.0 L398.4 804.5 L399.1 802.0 L399.7 799.3 L400.2 796.6 L400.6 793.9 L401.0 791.0 L401.2 787.9 L401.4 784.6 L401.5 781.2 L401.4 777.8 L401.2 774.7 L400.8 771.7 L400.3 768.8 L399.6 766.0 L398.9 763.3 L398.1 760.5 L397.0 757.7 L395.6 754.8 L393.9 752.0 L391.9 749.3 L389.9 746.8 L387.8 744.4 L385.6 742.2 L383.3 740.2 L380.9 738.3 L378.6 736.7 L376.4 735.3 L374.1 734.1 L371.6 733.1 L368.9 732.2 L365.8 731.4 L362.4 730.8 L358.7 730.2 L355.0 730.0 L351.2 730.2 L347.4 730.7 L344.0 731.3 L341.1 732.0 L339.0 732.6 L337.2 733.4 L336.1 734.1 L334.5 735.0 L331.6 736.3 L327.7 738.1 L323.4 740.2 L319.2 742.6 L315.1 745.2 L311.2 748.2 L307.3 751.3 L303.6 754.4 L300.1 757.6 L296.7 760.9 L293.3 764.5 L290.0 768.5 L286.7 773.1 L283.5 778.2 L280.5 783.1 L278.0 787.2 L276.1 790.3 L274.4 792.8 L273.0 795.2 L271.7 797.7 L270.5 800.3 L269.5 802.9 L268.7 805.3 L267.9 807.6 L267.2 809.9 L266.4 812.4 L265.7 815.0 L265.1 817.7 L264.6 820.3 L264.3 822.9 L264.2 825.4 L264.1 827.9 L264.2 830.5 L264.3 833.0 L264.6 835.6 L265.1 838.1 L265.6 840.7 L266.3 843.3 L267.1 845.8 L268.1 848.4 L269.1 850.9 L270.3 853.4 L271.7 855.9 L273.3 858.5 L275.1 861.0 L277.1 863.5 L279.4 866.0 L282.0 868.5 L285.0 871.1 L288.3 873.7 L291.8 876.0 L295.0 878.0 L298.1 879.2 L300.9 880.0 L303.5 880.4 L305.9 880.7 L308.4 880.8 L311.0 880.9 L313.5 880.7 L315.9 880.5 L318.4 880.2 L320.8 879.8 L323.3 879.2 L325.8 878.5 L328.4 877.5 L330.9 876.3 L333.3 875.1 L335.4 873.9 L337.3 872.7 L339.0 871.5 L340.4 870.4 L341.3 869.6 L341.7 869.1 L342.0 868.5 L342.0 867.9 L341.7 867.2 L341.2 866.8 L340.6 866.5 L340.0 866.5Z" fill="#e83a4a"/>
<text class="ttl" font-size="26.5" transform="translate(334.3,929.6) scale(1.185,1)" xml:space="preserve"><tspan x="0.0">図</tspan><tspan x="22.9">２ </tspan><tspan x="65.1">場所別事故件数</tspan></text>
<rect x="334" y="936" width="299" height="2" fill="#333"/>
</svg>
</body>
</html>
